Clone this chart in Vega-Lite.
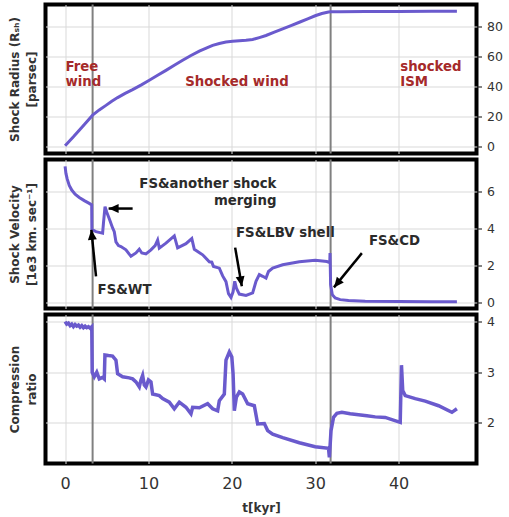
{
  "$schema": "https://vega.github.io/schema/vega-lite/v6.json",
  "padding": {"left": 6.5, "top": 1.5, "right": 2, "bottom": 2},
  "background": "white",
  "spacing": 6,
  "bounds": "flush",
  "config": {
    "font": "DejaVu Sans",
    "view": {"stroke": "black", "strokeWidth": 4},
    "axis": {"gridColor": "#d9d9d9", "gridWidth": 1, "domain": false, "labelFont": "DejaVu Sans", "titleFont": "DejaVu Sans", "labelColor": "#333333", "titleColor": "#333333", "tickColor": "#333333", "labelOverlap": false},
    "axisX": {"grid": true, "ticks": false, "tickSize": 0, "labelFontSize": 16, "labelPadding": 12, "titleFontSize": 12, "titleFontWeight": "bold", "titlePadding": 11},
    "axisY": {"grid": true, "tickSize": 5, "tickWidth": 1.2, "labelFontSize": 12.5, "labelPadding": 5, "titleAngle": -90, "titleX": -462, "titleY": 74.5, "titleBaseline": "middle", "titleAlign": "center", "titleFontSize": 12, "titleFontWeight": "bold", "titleLineHeight": 17}
  },
  "datasets": {
    "radius": [
      {"t": 0, "r": 0.6}, {"t": 0.5, "r": 3.6}, {"t": 1.0, "r": 6.6}, {"t": 1.7, "r": 11.0}, {"t": 2.5, "r": 16.0},
      {"t": 3.3, "r": 21.0}, {"t": 4.1, "r": 24.5}, {"t": 4.9, "r": 27.5}, {"t": 5.6, "r": 30.3}, {"t": 6.3, "r": 32.7},
      {"t": 7.2, "r": 35.5}, {"t": 8.1, "r": 38.0}, {"t": 9.1, "r": 41.0}, {"t": 10.1, "r": 44.2}, {"t": 11.1, "r": 47.5},
      {"t": 12.1, "r": 50.8}, {"t": 13.1, "r": 54.2}, {"t": 14.1, "r": 57.5}, {"t": 15.1, "r": 60.7}, {"t": 16.1, "r": 63.6},
      {"t": 17.0, "r": 65.8}, {"t": 17.7, "r": 67.4}, {"t": 18.5, "r": 68.7}, {"t": 19.3, "r": 69.6}, {"t": 20.1, "r": 70.1},
      {"t": 20.9, "r": 70.5}, {"t": 21.7, "r": 70.8}, {"t": 22.5, "r": 71.3}, {"t": 23.3, "r": 72.6}, {"t": 24.1, "r": 74.0},
      {"t": 25.1, "r": 76.2}, {"t": 26.1, "r": 78.4}, {"t": 27.1, "r": 80.6}, {"t": 28.1, "r": 82.8}, {"t": 29.1, "r": 85.0},
      {"t": 30.0, "r": 87.1}, {"t": 30.8, "r": 88.6}, {"t": 31.6, "r": 89.6}, {"t": 31.85, "r": 89.8}, {"t": 33, "r": 89.8},
      {"t": 36, "r": 89.9}, {"t": 40, "r": 90.0}, {"t": 44, "r": 90.1}, {"t": 47, "r": 90.1}
    ],
    "velocity": [
      {"t": 0.0, "v": 7.38}, {"t": 0.1, "v": 7.0}, {"t": 0.25, "v": 6.7}, {"t": 0.5, "v": 6.35}, {"t": 0.8, "v": 6.1},
      {"t": 1.2, "v": 5.88}, {"t": 1.7, "v": 5.7}, {"t": 2.3, "v": 5.53}, {"t": 2.9, "v": 5.38}, {"t": 3.19, "v": 5.3},
      {"t": 3.21, "v": 3.97}, {"t": 3.7, "v": 3.85}, {"t": 4.2, "v": 3.8}, {"t": 4.5, "v": 3.77}, {"t": 4.6, "v": 4.3},
      {"t": 4.79, "v": 5.2}, {"t": 5.0, "v": 4.9}, {"t": 5.3, "v": 4.55}, {"t": 5.7, "v": 4.05}, {"t": 5.9, "v": 3.85},
      {"t": 6.1, "v": 3.3}, {"t": 6.4, "v": 3.1}, {"t": 6.7, "v": 3.05}, {"t": 7.3, "v": 2.87}, {"t": 7.9, "v": 2.52},
      {"t": 8.5, "v": 2.7}, {"t": 8.9, "v": 2.9}, {"t": 9.2, "v": 2.7}, {"t": 9.7, "v": 2.65}, {"t": 10.3, "v": 2.87},
      {"t": 10.8, "v": 3.1}, {"t": 11.1, "v": 3.4}, {"t": 11.3, "v": 2.96}, {"t": 12.1, "v": 3.23}, {"t": 13.1, "v": 3.62},
      {"t": 13.5, "v": 2.98}, {"t": 14.5, "v": 3.2}, {"t": 15.2, "v": 3.48}, {"t": 15.5, "v": 2.9}, {"t": 16.5, "v": 2.6},
      {"t": 17.3, "v": 2.22}, {"t": 17.6, "v": 2.2}, {"t": 17.8, "v": 1.97}, {"t": 18.5, "v": 1.88}, {"t": 18.9, "v": 1.46},
      {"t": 19.3, "v": 1.15}, {"t": 19.6, "v": 0.5}, {"t": 19.9, "v": 0.3}, {"t": 20.15, "v": 0.6}, {"t": 20.35, "v": 1.17},
      {"t": 20.55, "v": 0.8}, {"t": 20.9, "v": 0.48}, {"t": 21.7, "v": 0.41}, {"t": 22.5, "v": 0.54}, {"t": 22.9, "v": 1.17},
      {"t": 23.3, "v": 1.53}, {"t": 23.7, "v": 1.44}, {"t": 24.1, "v": 1.34}, {"t": 24.4, "v": 1.7}, {"t": 24.9, "v": 1.88},
      {"t": 26.1, "v": 2.06}, {"t": 28.1, "v": 2.22}, {"t": 30.0, "v": 2.3}, {"t": 31.4, "v": 2.24}, {"t": 31.75, "v": 2.18},
      {"t": 31.78, "v": 2.7}, {"t": 31.85, "v": 0.99}, {"t": 32.05, "v": 0.45}, {"t": 32.4, "v": 0.27}, {"t": 33.0, "v": 0.18},
      {"t": 34.0, "v": 0.13}, {"t": 36, "v": 0.09}, {"t": 40, "v": 0.08}, {"t": 44, "v": 0.07}, {"t": 47, "v": 0.07}
    ],
    "compression": [
      {"t": 0.0, "c": 4.0}, {"t": 0.2, "c": 3.95}, {"t": 0.4, "c": 3.97}, {"t": 0.6, "c": 3.92}, {"t": 0.8, "c": 3.95},
      {"t": 1.0, "c": 3.9}, {"t": 1.2, "c": 3.94}, {"t": 1.4, "c": 3.91}, {"t": 1.6, "c": 3.93}, {"t": 1.8, "c": 3.89},
      {"t": 2.0, "c": 3.92}, {"t": 2.2, "c": 3.88}, {"t": 2.4, "c": 3.91}, {"t": 2.6, "c": 3.88}, {"t": 2.8, "c": 3.9},
      {"t": 3.0, "c": 3.87}, {"t": 3.2, "c": 3.9}, {"t": 3.25, "c": 3.0}, {"t": 3.5, "c": 2.91}, {"t": 3.8, "c": 3.0},
      {"t": 4.1, "c": 2.87}, {"t": 4.5, "c": 2.9}, {"t": 4.7, "c": 2.87}, {"t": 4.78, "c": 3.34}, {"t": 5.2, "c": 3.33},
      {"t": 5.7, "c": 3.32}, {"t": 6.1, "c": 3.24}, {"t": 6.3, "c": 2.97}, {"t": 6.9, "c": 2.91}, {"t": 7.7, "c": 2.89},
      {"t": 8.1, "c": 2.87}, {"t": 8.5, "c": 2.81}, {"t": 8.9, "c": 2.71}, {"t": 9.1, "c": 2.85}, {"t": 9.3, "c": 2.94},
      {"t": 9.5, "c": 2.75}, {"t": 9.7, "c": 2.71}, {"t": 10.0, "c": 2.85}, {"t": 10.3, "c": 2.81}, {"t": 10.5, "c": 2.57},
      {"t": 11.3, "c": 2.54}, {"t": 11.7, "c": 2.48}, {"t": 12.5, "c": 2.41}, {"t": 13.1, "c": 2.28}, {"t": 13.7, "c": 2.41},
      {"t": 14.5, "c": 2.31}, {"t": 15.1, "c": 2.18}, {"t": 15.3, "c": 2.31}, {"t": 16.1, "c": 2.3}, {"t": 17.1, "c": 2.38},
      {"t": 17.7, "c": 2.28}, {"t": 18.3, "c": 2.24}, {"t": 18.5, "c": 2.44}, {"t": 19.1, "c": 2.57}, {"t": 19.3, "c": 3.24},
      {"t": 19.7, "c": 3.4}, {"t": 20.0, "c": 3.3}, {"t": 20.15, "c": 2.97}, {"t": 20.3, "c": 2.24}, {"t": 20.55, "c": 2.51},
      {"t": 20.9, "c": 2.61}, {"t": 21.3, "c": 2.57}, {"t": 21.9, "c": 2.38}, {"t": 22.7, "c": 2.34}, {"t": 23.1, "c": 1.98},
      {"t": 23.9, "c": 1.99}, {"t": 24.3, "c": 1.85}, {"t": 24.9, "c": 1.78}, {"t": 26.1, "c": 1.71}, {"t": 28.1, "c": 1.61},
      {"t": 30.0, "c": 1.53}, {"t": 31.6, "c": 1.5}, {"t": 31.7, "c": 1.32}, {"t": 31.9, "c": 1.85}, {"t": 32.2, "c": 2.11},
      {"t": 32.6, "c": 2.19}, {"t": 33.2, "c": 2.21}, {"t": 34.2, "c": 2.18}, {"t": 35.2, "c": 2.16}, {"t": 36.2, "c": 2.14},
      {"t": 37.2, "c": 2.12}, {"t": 38.4, "c": 2.11}, {"t": 40.2, "c": 2.01}, {"t": 40.35, "c": 3.14}, {"t": 40.5, "c": 2.64},
      {"t": 40.8, "c": 2.54}, {"t": 42.0, "c": 2.48}, {"t": 43.2, "c": 2.43}, {"t": 44.8, "c": 2.34}, {"t": 46.4, "c": 2.21},
      {"t": 47.0, "c": 2.28}
    ],
    "vlines": [{"t": 3.3}, {"t": 31.85}],
    "phase": [
      {"t": 0.05, "r": 53, "label": "Free"}, {"t": 0.05, "r": 43, "label": "wind"},
      {"t": 14.4, "r": 43, "label": "Shocked wind"},
      {"t": 40.2, "r": 53, "label": "shocked"}, {"t": 40.2, "r": 43, "label": "ISM"}
    ],
    "notesRight": [
      {"t": 25.35, "v": 6.45, "label": "FS&another shock"},
      {"t": 25.35, "v": 5.5, "label": "merging"}
    ],
    "notesLeft": [
      {"t": 3.9, "v": 0.72, "label": "FS&WT"},
      {"t": 20.5, "v": 3.76, "label": "FS&LBV shell"},
      {"t": 36.45, "v": 3.35, "label": "FS&CD"}
    ],
    "arrows": [
      {"id": "wt", "t": 3.71, "v": 1.43, "t2": 3.15, "v2": 3.95},
      {"id": "merge", "t": 8.1, "v": 5.1, "t2": 5.22, "v2": 5.1},
      {"id": "lbv", "t": 20.4, "v": 2.99, "t2": 21.2, "v2": 0.9},
      {"id": "cd", "t": 35.6, "v": 2.69, "t2": 32.25, "v2": 0.84}
    ]
  },
  "vconcat": [
    {
      "width": 431, "height": 149,
      "layer": [
        {
          "data": {"name": "vlines"},
          "mark": {"type": "rule", "color": "#808080", "strokeWidth": 2},
          "encoding": {"x": {"field": "t", "type": "quantitative", "scale": {"domain": [-2.35, 49.35], "nice": false, "zero": false},
            "axis": {"values": [0, 10, 20, 30, 40], "labels": false, "title": null}}}
        },
        {
          "data": {"name": "radius"},
          "mark": {"type": "line", "color": "#6a5acd", "strokeWidth": 3},
          "encoding": {
            "x": {"field": "t", "type": "quantitative", "axis": {"values": [0, 10, 20, 30, 40], "labels": false, "title": null}},
            "y": {"field": "r", "type": "quantitative", "scale": {"domain": [-4.5, 94.6], "nice": false, "zero": false},
              "axis": {"orient": "right", "values": [0, 20, 40, 60, 80], "title": ["Shock Radius (Rₛₕ)", "[parsec]"]}}
          }
        },
        {
          "data": {"name": "phase"},
          "mark": {"type": "text", "color": "#a52a2a", "fontSize": 13.3, "fontWeight": "bold", "align": "left", "baseline": "middle"},
          "encoding": {
            "x": {"field": "t", "type": "quantitative", "axis": {"values": [0, 10, 20, 30, 40], "labels": false, "title": null}},
            "y": {"field": "r", "type": "quantitative", "axis": {"orient": "right", "values": [0, 20, 40, 60, 80], "title": ["Shock Radius (Rₛₕ)", "[parsec]"]}},
            "text": {"field": "label"}
          }
        }
      ]
    },
    {
      "width": 431, "height": 149,
      "layer": [
        {
          "data": {"name": "vlines"},
          "mark": {"type": "rule", "color": "#808080", "strokeWidth": 2},
          "encoding": {"x": {"field": "t", "type": "quantitative", "scale": {"domain": [-2.35, 49.35], "nice": false, "zero": false},
            "axis": {"values": [0, 10, 20, 30, 40], "labels": false, "title": null}}}
        },
        {
          "data": {"name": "velocity"},
          "mark": {"type": "line", "color": "#6a5acd", "strokeWidth": 3},
          "encoding": {
            "x": {"field": "t", "type": "quantitative", "axis": {"values": [0, 10, 20, 30, 40], "labels": false, "title": null}},
            "y": {"field": "v", "type": "quantitative", "scale": {"domain": [-0.3, 7.75], "nice": false, "zero": false},
              "axis": {"orient": "right", "values": [0, 2, 4, 6], "title": ["Shock Velocity", "[1e3 km. sec⁻¹]"]}}
          }
        },
        {
          "data": {"name": "notesRight"},
          "mark": {"type": "text", "color": "#2b2b2b", "fontSize": 13.3, "fontWeight": "bold", "align": "right", "baseline": "middle"},
          "encoding": {
            "x": {"field": "t", "type": "quantitative", "axis": {"values": [0, 10, 20, 30, 40], "labels": false, "title": null}},
            "y": {"field": "v", "type": "quantitative", "axis": {"orient": "right", "values": [0, 2, 4, 6], "title": ["Shock Velocity", "[1e3 km. sec⁻¹]"]}},
            "text": {"field": "label"}}
        },
        {
          "data": {"name": "notesLeft"},
          "mark": {"type": "text", "color": "#2b2b2b", "fontSize": 13.3, "fontWeight": "bold", "align": "left", "baseline": "middle"},
          "encoding": {
            "x": {"field": "t", "type": "quantitative", "axis": {"values": [0, 10, 20, 30, 40], "labels": false, "title": null}},
            "y": {"field": "v", "type": "quantitative", "axis": {"orient": "right", "values": [0, 2, 4, 6], "title": ["Shock Velocity", "[1e3 km. sec⁻¹]"]}},
            "text": {"field": "label"}}
        },
        {
          "data": {"name": "arrows"},
          "mark": {"type": "rule", "color": "black", "strokeWidth": 2.5},
          "encoding": {
            "x": {"field": "t", "type": "quantitative", "axis": {"values": [0, 10, 20, 30, 40], "labels": false, "title": null}},
            "y": {"field": "v", "type": "quantitative", "axis": {"orient": "right", "values": [0, 2, 4, 6], "title": ["Shock Velocity", "[1e3 km. sec⁻¹]"]}},
            "x2": {"field": "t2"}, "y2": {"field": "v2"}}
        },
        {
          "data": {"name": "arrows"},
          "transform": [{"filter": "datum.id === 'wt'"}],
          "mark": {"type": "point", "shape": "M0,0L-0.9,2L0.9,2Z", "filled": true, "color": "black", "size": 100, "opacity": 1, "angle": 354},
          "encoding": {
            "x": {"field": "t2", "type": "quantitative", "axis": {"values": [0, 10, 20, 30, 40], "labels": false, "title": null}},
            "y": {"field": "v2", "type": "quantitative", "axis": {"orient": "right", "values": [0, 2, 4, 6], "title": ["Shock Velocity", "[1e3 km. sec⁻¹]"]}}}
        },
        {
          "data": {"name": "arrows"},
          "transform": [{"filter": "datum.id === 'merge'"}],
          "mark": {"type": "point", "shape": "M0,0L-0.9,2L0.9,2Z", "filled": true, "color": "black", "size": 100, "opacity": 1, "angle": 270},
          "encoding": {
            "x": {"field": "t2", "type": "quantitative", "axis": {"values": [0, 10, 20, 30, 40], "labels": false, "title": null}},
            "y": {"field": "v2", "type": "quantitative", "axis": {"orient": "right", "values": [0, 2, 4, 6], "title": ["Shock Velocity", "[1e3 km. sec⁻¹]"]}}}
        },
        {
          "data": {"name": "arrows"},
          "transform": [{"filter": "datum.id === 'lbv'"}],
          "mark": {"type": "point", "shape": "M0,0L-0.9,2L0.9,2Z", "filled": true, "color": "black", "size": 100, "opacity": 1, "angle": 170},
          "encoding": {
            "x": {"field": "t2", "type": "quantitative", "axis": {"values": [0, 10, 20, 30, 40], "labels": false, "title": null}},
            "y": {"field": "v2", "type": "quantitative", "axis": {"orient": "right", "values": [0, 2, 4, 6], "title": ["Shock Velocity", "[1e3 km. sec⁻¹]"]}}}
        },
        {
          "data": {"name": "arrows"},
          "transform": [{"filter": "datum.id === 'cd'"}],
          "mark": {"type": "point", "shape": "M0,0L-0.9,2L0.9,2Z", "filled": true, "color": "black", "size": 100, "opacity": 1, "angle": 219.5},
          "encoding": {
            "x": {"field": "t2", "type": "quantitative", "axis": {"values": [0, 10, 20, 30, 40], "labels": false, "title": null}},
            "y": {"field": "v2", "type": "quantitative", "axis": {"orient": "right", "values": [0, 2, 4, 6], "title": ["Shock Velocity", "[1e3 km. sec⁻¹]"]}}}
        }
      ]
    },
    {
      "width": 431, "height": 149,
      "layer": [
        {
          "data": {"name": "vlines"},
          "mark": {"type": "rule", "color": "#808080", "strokeWidth": 2},
          "encoding": {"x": {"field": "t", "type": "quantitative", "scale": {"domain": [-2.35, 49.35], "nice": false, "zero": false},
            "axis": {"values": [0, 10, 20, 30, 40], "title": "t[kyr]"}}}
        },
        {
          "data": {"name": "compression"},
          "mark": {"type": "line", "color": "#6a5acd", "strokeWidth": 3.5},
          "encoding": {
            "x": {"field": "t", "type": "quantitative", "axis": {"values": [0, 10, 20, 30, 40], "title": "t[kyr]"}},
            "y": {"field": "c", "type": "quantitative", "scale": {"domain": [1.2, 4.14], "nice": false, "zero": false},
              "axis": {"orient": "right", "values": [2, 3, 4], "title": ["Compression", "ratio"]}}
          }
        }
      ]
    }
  ]
}
